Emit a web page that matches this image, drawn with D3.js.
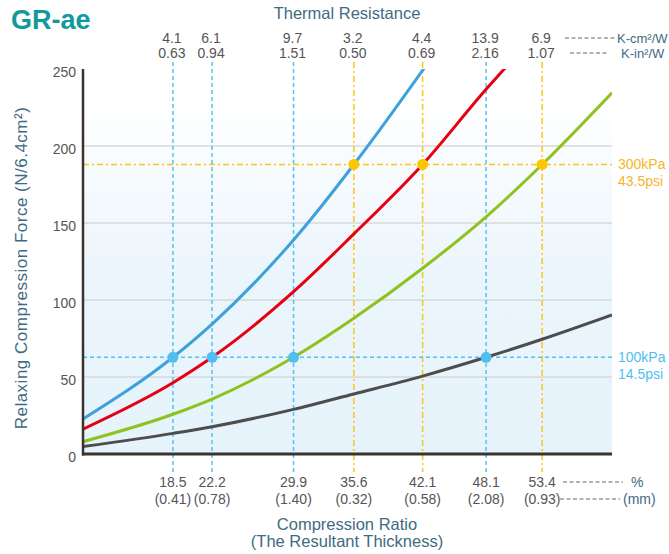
<!DOCTYPE html>
<html>
<head>
<meta charset="utf-8">
<script src="https://cdn.jsdelivr.net/npm/d3@7"></script>
<style>
  body { margin: 0; background: #fff; }
  text { font-family: "Liberation Sans", Arial, sans-serif; }
</style>
</head>
<body>
<script>
// ---- data ----
var ratios = [18.5, 22.2, 29.9, 35.6, 42.1, 48.1, 53.4];
var thickness = ['(0.41)', '(0.78)', '(1.40)', '(0.32)', '(0.58)', '(2.08)', '(0.93)'];
var resCm = ['4.1', '6.1', '9.7', '3.2', '4.4', '13.9', '6.9'];
var resIn = ['0.63', '0.94', '1.51', '0.50', '0.69', '2.16', '1.07'];
var lineKind = ['low', 'low', 'low', 'high', 'high', 'low', 'high'];
var yTicks = [0, 50, 100, 150, 200, 250];
var gridTicks = [50, 100, 150, 200];

var lowForce = 62.8;   // 100kPa
var highForce = 188;   // 300kPa

var blueSeries  = [[10, 22.7], [18.5, 62.8], [22.2, 84.4], [29.9, 139], [35.6, 188], [38.1, 211], [42.5, 253]];
var redSeries   = [[10, 16.2], [18.5, 46.3], [22.2, 62.8], [29.9, 105.4], [35.6, 142.9], [42.1, 188], [48.1, 236.8], [50.2, 253]];
var greenSeries = [[10, 8], [18.5, 25.8], [22.2, 35.7], [29.9, 62.8], [35.6, 88.1], [42.1, 120.6], [48.1, 154], [53.4, 188], [60, 234.6]];
var graySeries  = [[10, 4.8], [18.5, 13.4], [22.2, 17.7], [29.9, 29], [35.6, 39], [42.1, 50.6], [48.1, 62.8], [53.4, 74.5], [60, 90.3]];

var lowDots = [[18.5, lowForce], [22.2, lowForce], [29.9, lowForce], [48.1, lowForce]];
var highDots = [[35.6, highForce], [42.1, highForce], [53.4, highForce]];

var w = 669, h = 554;
var blue = '#3ba2da', red = '#e60012', green = '#8dc21f', dark = '#4d4d4d';
var lightBlue = '#55c3f0', yellow = '#fcc514', slate = '#3f6a82', grey = '#555';

var x = d3.scaleLinear().domain([10, 60]).range([83, 612]);
var y = d3.scaleLinear().domain([0, 250]).range([454, 69]);

var svg = d3.select('body').append('svg')
  .attr('width', w).attr('height', h);

var defs = svg.append('defs');
var grad = defs.append('linearGradient').attr('id', 'bg')
  .attr('x1', 0).attr('y1', 0).attr('x2', 0).attr('y2', 1);
grad.append('stop').attr('offset', '0%').attr('stop-color', '#ffffff');
grad.append('stop').attr('offset', '8%').attr('stop-color', '#ffffff');
grad.append('stop').attr('offset', '55%').attr('stop-color', '#ebf5fc');
grad.append('stop').attr('offset', '100%').attr('stop-color', '#e6f3fb');

defs.append('clipPath').attr('id', 'plot')
  .append('rect')
  .attr('x', x(10)).attr('y', y(250))
  .attr('width', x(60) - x(10)).attr('height', y(0) - y(250));

// background
svg.append('rect')
  .attr('x', x(10)).attr('y', y(250))
  .attr('width', x(60) - x(10)).attr('height', y(0) - y(250))
  .attr('fill', 'url(#bg)');

// grid
svg.selectAll('.grid').data(gridTicks).enter().append('line')
  .attr('x1', x(10)).attr('x2', x(60))
  .attr('y1', function(d){ return y(d); }).attr('y2', function(d){ return y(d); })
  .attr('stroke', '#d8d8d8').attr('stroke-width', 1.5);

// vertical reference lines
svg.selectAll('.vref').data(ratios).enter().append('line')
  .attr('x1', function(d){ return x(d); }).attr('x2', function(d){ return x(d); })
  .attr('y1', 62).attr('y2', 472)
  .attr('stroke', function(d, i){ return lineKind[i] == 'low' ? lightBlue : yellow; })
  .attr('stroke-width', 1.5)
  .attr('stroke-dasharray', function(d, i){ return lineKind[i] == 'low' ? '4,3' : '6,3,2,3'; });

// horizontal reference lines
svg.append('line')
  .attr('x1', x(10)).attr('x2', x(60))
  .attr('y1', y(highForce)).attr('y2', y(highForce))
  .attr('stroke', yellow).attr('stroke-width', 1.5)
  .attr('stroke-dasharray', '6,3,2,3');
svg.append('line')
  .attr('x1', x(10)).attr('x2', x(60))
  .attr('y1', y(lowForce)).attr('y2', y(lowForce))
  .attr('stroke', lightBlue).attr('stroke-width', 1.5)
  .attr('stroke-dasharray', '4,3');

// curves
var line = d3.line()
  .x(function(d){ return x(d[0]); })
  .y(function(d){ return y(d[1]); })
  .curve(d3.curveMonotoneX);

var curves = svg.append('g').attr('clip-path', 'url(#plot)');
[[graySeries, dark], [greenSeries, green], [redSeries, red], [blueSeries, blue]].forEach(function(s){
  curves.append('path')
    .datum(s[0])
    .attr('d', line)
    .attr('fill', 'none')
    .attr('stroke', s[1])
    .attr('stroke-width', 3);
});

// dots
svg.selectAll('.ldot').data(lowDots).enter().append('circle')
  .attr('cx', function(d){ return x(d[0]); })
  .attr('cy', function(d){ return y(d[1]); })
  .attr('r', 5.5).attr('fill', '#4fbfef');
svg.selectAll('.hdot').data(highDots).enter().append('circle')
  .attr('cx', function(d){ return x(d[0]); })
  .attr('cy', function(d){ return y(d[1]); })
  .attr('r', 5.5).attr('fill', '#fcc600');

// axes
var yAxis = d3.axisLeft(y).tickValues(yTicks).tickSize(0).tickPadding(7);
var ya = svg.append('g').attr('transform', 'translate(' + x(10) + ',0)').call(yAxis);
ya.select('.domain').remove();
ya.selectAll('text').attr('fill', grey).style('font-size', '14px')
  .style('font-family', '"Liberation Sans", Arial, sans-serif')
  .attr('dy', '0.5em');

svg.append('line')
  .attr('x1', x(10)).attr('x2', x(10))
  .attr('y1', y(250)).attr('y2', y(0) + 1.5)
  .attr('stroke', '#3a3330').attr('stroke-width', 2.5);
svg.append('line')
  .attr('x1', x(10) - 1).attr('x2', x(60))
  .attr('y1', y(0)).attr('y2', y(0))
  .attr('stroke', '#3a3330').attr('stroke-width', 3);

// bottom labels
svg.selectAll('.pct').data(ratios).enter().append('text')
  .attr('x', function(d){ return x(d); }).attr('y', 487)
  .attr('text-anchor', 'middle').attr('fill', grey).style('font-size', '14px')
  .text(function(d){ return d.toFixed(1); });
svg.selectAll('.mm').data(ratios).enter().append('text')
  .attr('x', function(d){ return x(d); }).attr('y', 504)
  .attr('text-anchor', 'middle').attr('fill', grey).style('font-size', '14px')
  .text(function(d, i){ return thickness[i]; });

// top labels
svg.selectAll('.rcm').data(ratios).enter().append('text')
  .attr('x', function(d){ return x(d) - 1; }).attr('y', 43)
  .attr('text-anchor', 'middle').attr('fill', grey).style('font-size', '14px')
  .text(function(d, i){ return resCm[i]; });
svg.selectAll('.rin').data(ratios).enter().append('text')
  .attr('x', function(d){ return x(d) - 1; }).attr('y', 58)
  .attr('text-anchor', 'middle').attr('fill', grey).style('font-size', '14px')
  .text(function(d, i){ return resIn[i]; });

// leaders + units
function leader(x1, x2, yy) {
  svg.append('line').attr('x1', x1).attr('x2', x2).attr('y1', yy).attr('y2', yy)
    .attr('stroke', '#666').attr('stroke-width', 1).attr('stroke-dasharray', '4,2.5');
}
leader(565, 615, 38);
leader(570, 608, 53);
leader(563, 623, 482);
leader(560, 620, 499);

svg.append('text').attr('x', 617).attr('y', 43).attr('fill', slate).style('font-size', '13px')
  .text('K-cm²/W');
svg.append('text').attr('x', 621).attr('y', 58).attr('fill', slate).style('font-size', '13px')
  .text('K-in²/W');
svg.append('text').attr('x', 631).attr('y', 487).attr('fill', slate).style('font-size', '14px')
  .text('%');
svg.append('text').attr('x', 623).attr('y', 504).attr('fill', slate).style('font-size', '14px')
  .text('(mm)');

svg.append('text').attr('x', 618).attr('y', y(highForce) + 5).attr('fill', '#f7b52c').style('font-size', '14px')
  .text('300kPa');
svg.append('text').attr('x', 618).attr('y', y(highForce) + 22).attr('fill', '#f7b52c').style('font-size', '14px')
  .text('43.5psi');
svg.append('text').attr('x', 618).attr('y', y(lowForce) + 5).attr('fill', '#4fbfef').style('font-size', '14px')
  .text('100kPa');
svg.append('text').attr('x', 618).attr('y', y(lowForce) + 22).attr('fill', '#4fbfef').style('font-size', '14px')
  .text('14.5psi');

// titles
svg.append('text').attr('x', 11).attr('y', 29)
  .attr('fill', '#11999e').style('font-size', '27px').style('font-weight', 'bold')
  .text('GR-ae');
svg.append('text').attr('x', 347).attr('y', 19).attr('text-anchor', 'middle')
  .attr('fill', slate).style('font-size', '16.5px').text('Thermal Resistance');
svg.append('text').attr('x', 347).attr('y', 530).attr('text-anchor', 'middle')
  .attr('fill', slate).style('font-size', '16.5px').text('Compression Ratio');
svg.append('text').attr('x', 347).attr('y', 547).attr('text-anchor', 'middle')
  .attr('fill', slate).style('font-size', '16.5px').text('(The Resultant Thickness)');
svg.append('text')
  .attr('transform', 'translate(27,268) rotate(-90)')
  .attr('text-anchor', 'middle')
  .attr('fill', slate).style('font-size', '17px').style('letter-spacing', '0.5px')
  .text('Relaxing Compression Force (N/6.4cm²)');
</script>
</body>
</html>
